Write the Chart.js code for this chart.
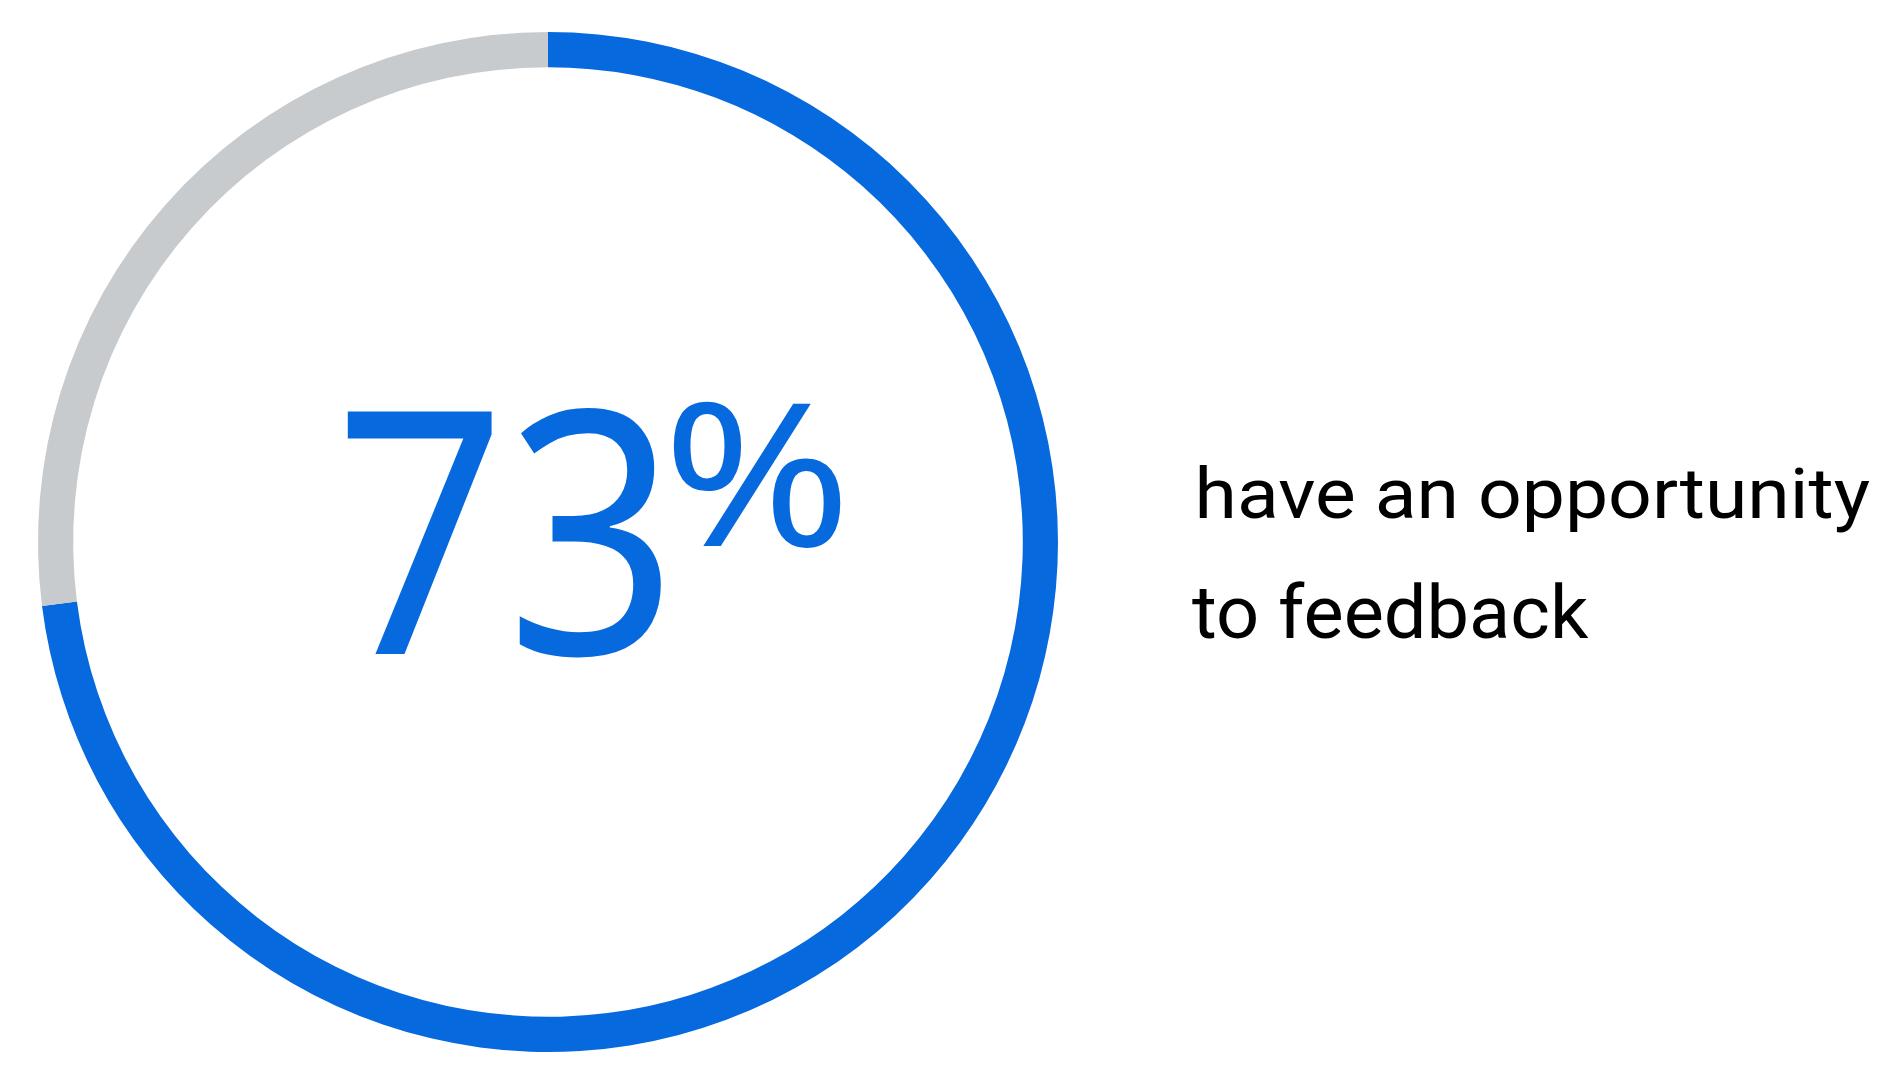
<!DOCTYPE html>
<html>
<head>
<meta charset="utf-8">
<script src="https://cdn.jsdelivr.net/npm/chart.js@4"></script>
<style>
  html, body { margin: 0; padding: 0; background: #ffffff; }
  #ringChart { display: block; }
</style>
</head>
<body>
<canvas id="ringChart" width="1904" height="1086"></canvas>
<script>
// Chart data
const labels = ['have an opportunity to feedback', 'other'];
const values = [73, 27];
const sliceColors = ['#0769DE', '#C8CBCE'];
const bigNumber = '73';
const captionLines = ['have an opportunity', 'to feedback'];

// Draws text so its ink fills the box: height from ascent, width by horizontal scaling
const drawFitted = (ctx, text, family, left, right, top, baseline) => {
  ctx.save();
  ctx.font = '100px ' + family;
  const probe = ctx.measureText(text);
  const size = (100 * (baseline - top)) / probe.actualBoundingBoxAscent;
  ctx.font = size + 'px ' + family;
  const m = ctx.measureText(text);
  const inkWidth = m.actualBoundingBoxLeft + m.actualBoundingBoxRight;
  const sx = (right - left) / inkWidth;
  ctx.translate(left + m.actualBoundingBoxLeft * sx, baseline);
  ctx.scale(sx, 1);
  ctx.fillText(text, 0, 0);
  ctx.restore();
};

const centerText = {
  id: 'centerText',
  afterDraw(chart) {
    const ctx = chart.ctx;
    ctx.save();
    ctx.textAlign = 'left';
    ctx.textBaseline = 'alphabetic';

    // Big percentage inside the ring
    ctx.fillStyle = sliceColors[0];
    drawFitted(ctx, bigNumber, '"Noto Sans"', 344, 661, 406, 654);
    drawFitted(ctx, '%', '"Noto Sans"', 673, 841, 400, 546);

    // Caption on the right
    ctx.fillStyle = '#000000';
    drawFitted(ctx, captionLines[0], 'Roboto', 1199, 1870, 465, 518);
    drawFitted(ctx, captionLines[1], 'Roboto', 1192, 1589, 582, 638);
    ctx.restore();
  },
};

const ctx = document.getElementById('ringChart').getContext('2d');
new Chart(ctx, {
  type: 'doughnut',
  data: {
    labels: labels,
    datasets: [
      {
        data: values,
        backgroundColor: sliceColors,
        borderWidth: 0,
      },
    ],
  },
  options: {
    responsive: false,
    animation: false,
    cutout: '93.1%',
    layout: {
      padding: { left: 38, top: 32, right: 846, bottom: 34 },
    },
    plugins: {
      legend: { display: false },
      tooltip: { enabled: false },
    },
  },
  plugins: [centerText],
});
</script>
</body>
</html>
